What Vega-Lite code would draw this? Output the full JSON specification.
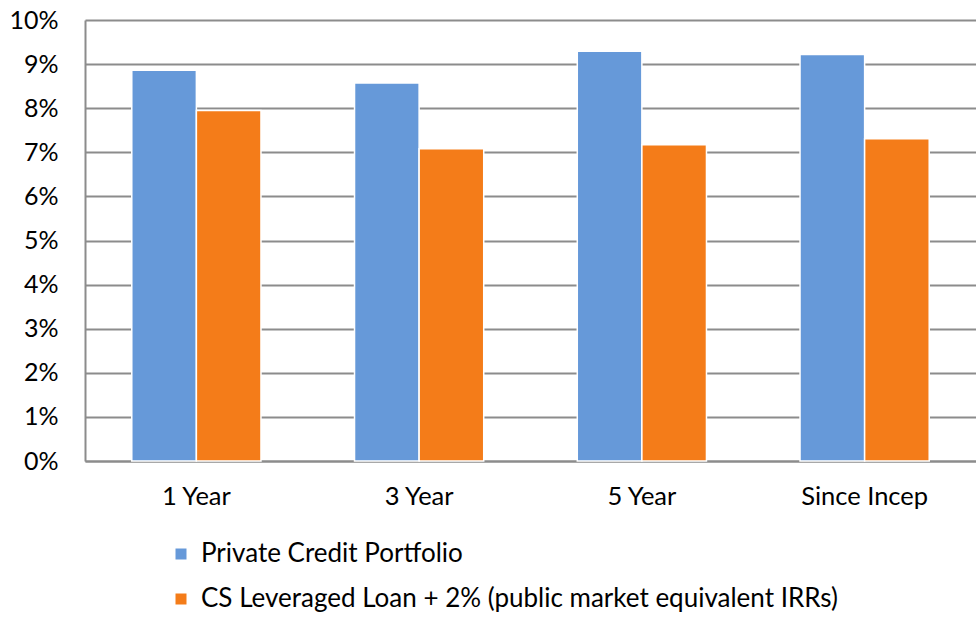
{
  "$schema": "https://vega.github.io/schema/vega-lite/v6.json",
  "width": 891,
  "height": 441,
  "autosize": {"type": "none"},
  "padding": {"left": 85, "top": 20, "right": 0, "bottom": 157},
  "background": "white",
  "config": {
    "font": "Lato",
    "view": {"stroke": null}
  },
  "data": {
    "values": [
      {"period": "1 Year", "series": "Private Credit Portfolio", "value": 0.0886},
      {"period": "1 Year", "series": "CS Leveraged Loan + 2% (public market equivalent IRRs)", "value": 0.0795},
      {"period": "3 Year", "series": "Private Credit Portfolio", "value": 0.0857},
      {"period": "3 Year", "series": "CS Leveraged Loan + 2% (public market equivalent IRRs)", "value": 0.0708},
      {"period": "5 Year", "series": "Private Credit Portfolio", "value": 0.0929},
      {"period": "5 Year", "series": "CS Leveraged Loan + 2% (public market equivalent IRRs)", "value": 0.0717},
      {"period": "Since Incep", "series": "Private Credit Portfolio", "value": 0.0922},
      {"period": "Since Incep", "series": "CS Leveraged Loan + 2% (public market equivalent IRRs)", "value": 0.0731}
    ]
  },
  "mark": {"type": "bar", "stroke": "white", "strokeWidth": 1.5},
  "encoding": {
    "x": {
      "field": "period",
      "type": "nominal",
      "sort": ["1 Year", "3 Year", "5 Year", "Since Incep"],
      "scale": {"paddingInner": 0.42, "paddingOuter": 0.21},
      "axis": {
        "title": null,
        "labelAngle": 0,
        "labelFontSize": 25.5,
        "labelColor": "#000000",
        "labelPadding": 23,
        "ticks": false,
        "domainColor": "#8c8c8c",
        "domainWidth": 2
      }
    },
    "xOffset": {
      "field": "series",
      "type": "nominal",
      "sort": ["Private Credit Portfolio", "CS Leveraged Loan + 2% (public market equivalent IRRs)"]
    },
    "y": {
      "field": "value",
      "type": "quantitative",
      "scale": {"domain": [0, 0.1], "nice": false},
      "axis": {
        "title": null,
        "values": [0, 0.01, 0.02, 0.03, 0.04, 0.05, 0.06, 0.07, 0.08, 0.09, 0.1],
        "format": ".0%",
        "labelFontSize": 25,
        "labelColor": "#000000",
        "labelPadding": 27,
        "ticks": false,
        "domainColor": "#8c8c8c",
        "domainWidth": 2,
        "gridColor": "#8c8c8c",
        "gridWidth": 2
      }
    },
    "color": {
      "field": "series",
      "type": "nominal",
      "sort": ["Private Credit Portfolio", "CS Leveraged Loan + 2% (public market equivalent IRRs)"],
      "scale": {
        "domain": ["Private Credit Portfolio", "CS Leveraged Loan + 2% (public market equivalent IRRs)"],
        "range": ["#6699d9", "#f47c19"]
      },
      "legend": {
        "title": null,
        "orient": "none",
        "legendX": 83,
        "legendY": 521,
        "direction": "vertical",
        "symbolType": "square",
        "symbolSize": 121,
        "symbolStrokeWidth": 0,
        "labelFontSize": 26,
        "labelColor": "#000000",
        "labelLimit": 900,
        "rowPadding": 19,
        "symbolOffset": 0,
        "labelOffset": 7
      }
    }
  }
}
